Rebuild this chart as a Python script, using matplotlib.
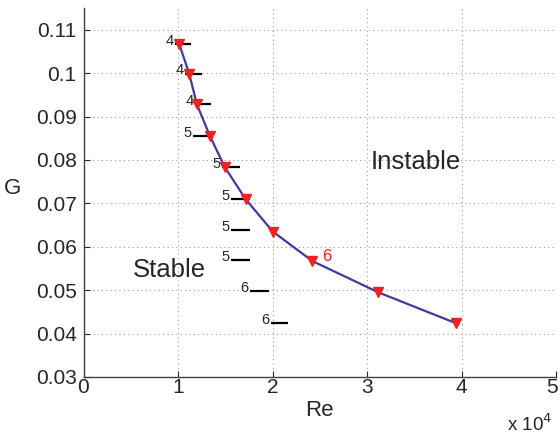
import matplotlib.pyplot as plt
import matplotlib.transforms as mtransforms
import numpy as np

plt.rcParams['font.family'] = ['Liberation Sans', 'DejaVu Sans']

# stability boundary (Re, G)
re_pts = [10130, 11180, 12000, 13380, 14960, 17180, 20030, 24230, 31200, 39400]
g_pts = [0.1067, 0.0999, 0.0928, 0.0855, 0.0783, 0.0709, 0.0635, 0.0567, 0.0495, 0.0424]

# short black marks with their numbers
seg_start = [9700, 10750, 11800, 11600, 14650, 15600, 15600, 15600, 17600, 19800]
seg_end = [11370, 12530, 13480, 13700, 16550, 17600, 17600, 17600, 19600, 21600]
seg_g = [0.1067, 0.0999, 0.0928, 0.0855, 0.0783, 0.0709, 0.0638, 0.0569, 0.0497, 0.0424]
seg_labels = ['4', '4', '4', '5', '5', '5', '5', '5', '6', '6']

x_ticks = [0, 10000, 20000, 30000, 40000, 50000]
x_ticklabels = ['0', '1', '2', '3', '4', '5']
y_ticks = [0.03, 0.04, 0.05, 0.06, 0.07, 0.08, 0.09, 0.1, 0.11]
y_ticklabels = ['0.03', '0.04', '0.05', '0.06', '0.07', '0.08', '0.09', '0.1', '0.11']

fig = plt.figure(figsize=(5.6, 4.34), dpi=100)
ax = fig.add_axes([83.5 / 560, 57 / 434, (556 - 83.5) / 560, (377 - 8) / 434])

text_col = '#262626'

# grid
ax.grid(True, linestyle=(0, (1, 3.5)), color='#888888', linewidth=0.7)
ax.set_axisbelow(True)

# black marks + labels
for x0, x1, g, lab in zip(seg_start, seg_end, seg_g, seg_labels):
    ax.plot([x0, x1], [g, g], color='black', linewidth=1.6, solid_capstyle='butt', zorder=2)
    ax.annotate(lab, xy=(x0, g), xytext=(-1.2, 2.5), textcoords='offset points',
                ha='right', va='center', fontsize=10.5, color=text_col)

# boundary curve
ax.plot(re_pts, g_pts, color='#3c3ca0', linewidth=1.6, zorder=3)
ax.plot(re_pts, g_pts, linestyle='none', marker='v', markersize=6.5,
        markerfacecolor='#ee2222', markeredgecolor='#ee2222', zorder=4)

ax.annotate('6', xy=(re_pts[7], g_pts[7]), xytext=(7, 3), textcoords='offset points',
            ha='left', va='center', fontsize=12, color='#ee2222')

ax.text(9140, 0.0547, 'Stable', fontsize=18.5, ha='center', va='center', color=text_col)
ax.text(35150, 0.0795, 'Instable', fontsize=18.5, ha='center', va='center', color=text_col)

ax.set_xlim(0, 50000)
ax.set_ylim(0.03, 0.115)
ax.set_xticks(x_ticks)
ax.set_xticklabels(x_ticklabels)
ax.set_yticks(y_ticks)
ax.set_yticklabels(y_ticklabels)
ax.tick_params(direction='in', length=4, labelsize=15, colors=text_col)
ax.tick_params(axis='y', pad=5)
ax.tick_params(axis='x', pad=1)

# keep the last x tick label inside the figure
last = ax.get_xticklabels()[-1]
last.set_transform(last.get_transform() +
                   mtransforms.ScaledTranslation(-3 / 72, 0, fig.dpi_scale_trans))

for side in ['top', 'right']:
    ax.spines[side].set_visible(False)
for side in ['left', 'bottom']:
    ax.spines[side].set_color('#404040')
    ax.spines[side].set_linewidth(1.0)

ax.set_xlabel('Re', fontsize=16, color=text_col, labelpad=2)
ax.set_ylabel('G', fontsize=16, color=text_col, rotation=0)
ax.yaxis.label.set_va('center')
ax.yaxis.set_label_coords(-0.151, 0.512)

fig.text(552 / 560, 1 - 424 / 434, 'x 10$^4$', fontsize=13.5, ha='right', va='center',
         color=text_col)

fig.savefig('out.png', dpi=100)
